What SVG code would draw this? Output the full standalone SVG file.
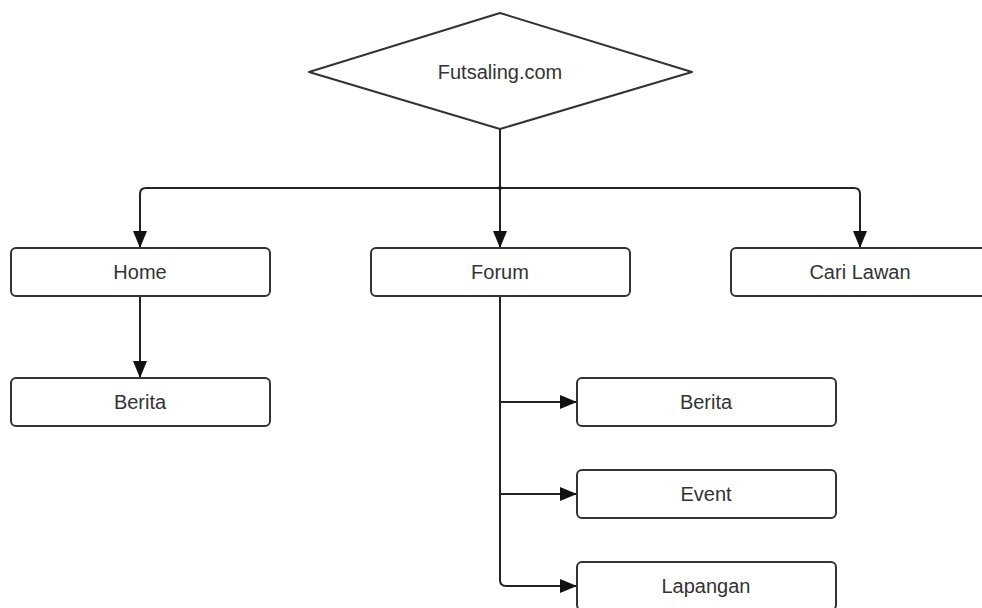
<svg xmlns="http://www.w3.org/2000/svg" width="982" height="608" viewBox="0 0 982 608">
<style>
.box{fill:#fff;stroke:#333;stroke-width:2}
.lbl{font-family:"Liberation Sans",Arial,sans-serif;font-size:20px;fill:#333;text-anchor:middle;dominant-baseline:central}
.con{fill:none;stroke:#222;stroke-width:2}
</style>
<defs>
<marker id="arr" markerWidth="18" markerHeight="14" refX="17" refY="7" orient="auto" markerUnits="userSpaceOnUse">
<path d="M0,0 L17,7 L0,14 Z" fill="#111"/>
</marker>
</defs>
<rect width="982" height="608" fill="#fff"/>
<g id="connectors">
<path class="con" d="M500,129 V248" marker-end="url(#arr)"/>
<path class="con" d="M500,188 H146 Q140,188 140,194 V248" marker-end="url(#arr)"/>
<path class="con" d="M500,188 H854 Q860,188 860,194 V248" marker-end="url(#arr)"/>
<circle cx="500" cy="188" r="2" fill="#222"/>
<path class="con" d="M140,296 V378" marker-end="url(#arr)"/>
<path class="con" d="M500,296 V580 Q500,586 506,586 H577" marker-end="url(#arr)"/>
<path class="con" d="M500,402 H577" marker-end="url(#arr)"/>
<path class="con" d="M500,494 H577" marker-end="url(#arr)"/>
</g>
<g id="root">
<polygon class="box" points="500,13 692,72 500,129 309,72" stroke-linejoin="round"/>
<text class="lbl" x="500" y="72">Futsaling.com</text>
</g>
<g id="home">
<rect class="box" x="11" y="248" width="259" height="48" rx="5"/>
<text class="lbl" x="140" y="272">Home</text>
</g>
<g id="forum">
<rect class="box" x="371" y="248" width="259" height="48" rx="5"/>
<text class="lbl" x="500" y="272">Forum</text>
</g>
<g id="cari-lawan">
<rect class="box" x="731" y="248" width="259" height="48" rx="5"/>
<text class="lbl" x="860" y="272">Cari Lawan</text>
</g>
<g id="home-berita">
<rect class="box" x="11" y="378" width="259" height="48" rx="5"/>
<text class="lbl" x="140" y="402">Berita</text>
</g>
<g id="forum-berita">
<rect class="box" x="577" y="378" width="259" height="48" rx="5"/>
<text class="lbl" x="706" y="402">Berita</text>
</g>
<g id="forum-event">
<rect class="box" x="577" y="470" width="259" height="48" rx="5"/>
<text class="lbl" x="706" y="494">Event</text>
</g>
<g id="forum-lapangan">
<rect class="box" x="577" y="562" width="259" height="48" rx="5"/>
<text class="lbl" x="706" y="586">Lapangan</text>
</g>
</svg>
